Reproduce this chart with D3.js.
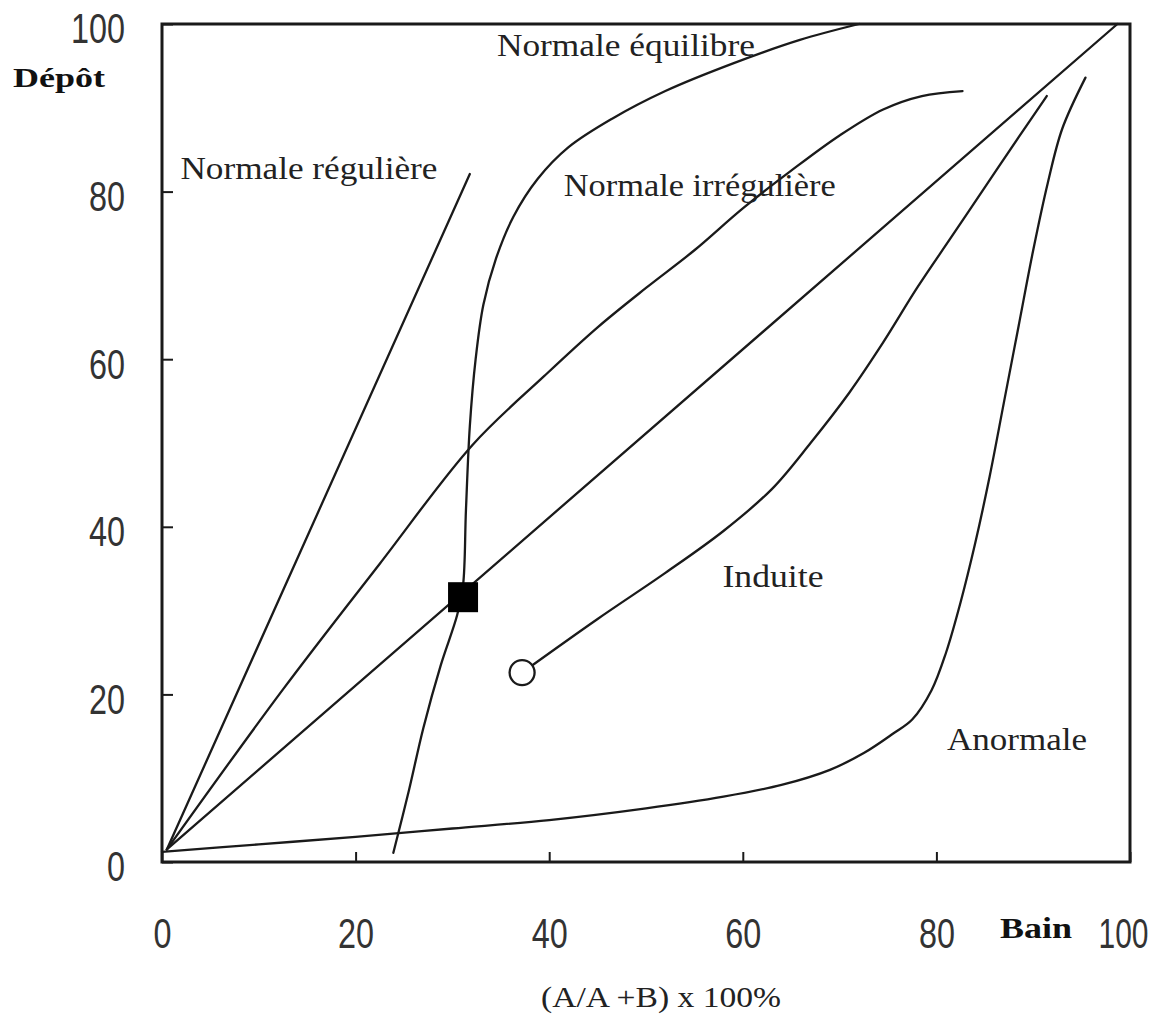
<!DOCTYPE html>
<html>
<head>
<meta charset="utf-8">
<script src="https://cdn.jsdelivr.net/npm/d3@7/dist/d3.min.js"></script>
<style>
body { margin: 0; background: #fff; }
</style>
</head>
<body>
<script>
const largeur = 1165;
const hauteur = 1016;

// courbes : [bain %, dépôt %]
const normaleReguliere = [[0.5, 1.5], [31.8, 82.1]];
const normaleIrreguliere = [[0.5, 1.5], [12.5, 20.6], [22.5, 35.6], [32.1, 49.8], [39.5, 58], [45, 63.8], [50, 68.5], [55, 73], [60, 78], [65, 82.5], [70, 86.7], [74.5, 89.8], [78.5, 91.4], [82.7, 92]];
const diagonale = [[0.5, 1.5], [98.7, 100]];
const normaleEquilibre = [[23.9, 1.1], [25.5, 8.5], [27, 16], [28.8, 23.5], [30.5, 29.5], [31.1, 33], [31.4, 42], [31.8, 52], [32.4, 60], [33.2, 66.5], [34.5, 72], [36.3, 77], [38.8, 81.5], [42, 85.3], [46.5, 88.7], [52, 92], [59, 95.3], [65.9, 98.1], [72, 100]];
const induite = [[37.2, 22.6], [45, 29], [52, 34.5], [58, 39.5], [63, 44.5], [67, 50], [71, 56], [74.5, 62], [78, 68.5], [81.5, 74.5], [85, 80.5], [88.5, 86.5], [91.4, 91.4]];
const anormale = [[0, 1.2], [10, 2.1], [20, 3], [30, 4], [40, 5], [50, 6.4], [58, 7.8], [64, 9.2], [69, 11], [72.5, 13], [75.5, 15.3], [77.5, 17], [79.5, 20.5], [81, 25], [82.5, 31], [84, 38], [85.5, 46], [87, 55], [88.5, 64], [90, 73], [91.5, 81], [93, 87.5], [95.4, 93.6]];

const pointCarre = [31.1, 31.6];
const pointRond = [37.2, 22.6];

const ticksX = [0, 20, 40, 60, 80, 100];
const ticksY = [0, 20, 40, 60, 80, 100];

const svg = d3
.select("body")
.append("svg")
.attr("width", largeur)
.attr("height", hauteur);

const x = d3.scaleLinear().domain([0, 100]).range([162, 1130]);
const y = d3.scaleLinear().domain([0, 100]).range([862, 24]);

const encre = "#1a1a1a";

// axes
const axeY = svg.append("g")
.attr("transform", "translate(" + x(0) + ",0)")
.call(d3.axisLeft(y).tickValues(ticksY).tickSize(-11).tickPadding(37));

const axeX = svg.append("g")
.attr("transform", "translate(0," + y(0) + ")")
.call(d3.axisBottom(x).tickValues(ticksX).tickSize(-10).tickPadding(56));

[axeY, axeX].forEach(function(a)
{
    a.select(".domain").remove();
    a.selectAll(".tick line").attr("stroke", encre).attr("stroke-width", 2);
    a.selectAll(".tick text")
    .attr("font-family", "'Liberation Sans Narrow', 'Liberation Sans', sans-serif")
    .attr("font-size", 42)
    .attr("fill", "#333")
    .attr("textLength", function(d) { return String(d).length * 18; })
    .attr("lengthAdjust", "spacingAndGlyphs");
});
axeY.selectAll(".tick text").attr("dy", "0.45em");
axeX.selectAll(".tick text").attr("dy", "0.71em");
axeX.selectAll(".tick text").filter(function(d) { return d == 100; })
.attr("dx", -7)
.attr("textLength", 50);

// cadre
svg.append("rect")
.attr("x", x(0))
.attr("y", y(100))
.attr("width", x(100) - x(0))
.attr("height", y(0) - y(100))
.attr("fill", "none")
.attr("stroke", encre)
.attr("stroke-width", 3);

const lisse = d3.line()
.x(function(d) { return x(d[0]); })
.y(function(d) { return y(d[1]); })
.curve(d3.curveCatmullRom.alpha(0.5));

const droite = d3.line()
.x(function(d) { return x(d[0]); })
.y(function(d) { return y(d[1]); });

const courbes = [
    { points: normaleReguliere, trace: droite },
    { points: normaleIrreguliere, trace: lisse },
    { points: diagonale, trace: droite },
    { points: normaleEquilibre, trace: lisse },
    { points: induite, trace: lisse },
    { points: anormale, trace: lisse }
];

svg.append("g")
.selectAll("path")
.data(courbes)
.enter()
.append("path")
.attr("d", function(d) { return d.trace(d.points); })
.attr("fill", "none")
.attr("stroke", encre)
.attr("stroke-width", 2.3)
.attr("stroke-linecap", "round")
.attr("stroke-linejoin", "round");

// marqueurs
svg.append("rect")
.attr("x", x(pointCarre[0]) - 15)
.attr("y", y(pointCarre[1]) - 15)
.attr("width", 30)
.attr("height", 30)
.attr("fill", "#000");

svg.append("circle")
.attr("cx", x(pointRond[0]))
.attr("cy", y(pointRond[1]))
.attr("r", 12.5)
.attr("fill", "#fff")
.attr("stroke", encre)
.attr("stroke-width", 2.3);

// étiquettes des courbes
const etiquettes = [
    { texte: "Normale équilibre", bx: 34.6, dy: 96.2, long: 258 },
    { texte: "Normale régulière", bx: 1.9, dy: 81.5, long: 257 },
    { texte: "Normale irrégulière", bx: 41.5, dy: 79.5, long: 272 },
    { texte: "Induite", bx: 57.9, dy: 32.8, long: 101 },
    { texte: "Anormale", bx: 81.1, dy: 13.4, long: 140 }
];

svg.append("g")
.selectAll("text")
.data(etiquettes)
.enter()
.append("text")
.attr("x", function(d) { return x(d.bx); })
.attr("y", function(d) { return y(d.dy); })
.attr("font-family", "'Liberation Serif', 'Times New Roman', serif")
.attr("font-size", 31)
.attr("fill", "#222")
.attr("textLength", function(d) { return d.long; })
.attr("lengthAdjust", "spacingAndGlyphs")
.text(function(d) { return d.texte; });

// titres des axes
svg.append("text")
.attr("x", 13)
.attr("y", 87)
.attr("font-family", "'Liberation Serif', serif")
.attr("font-weight", "bold")
.attr("font-size", 28)
.attr("fill", "#111")
.attr("textLength", 92)
.attr("lengthAdjust", "spacingAndGlyphs")
.text("Dépôt");

svg.append("text")
.attr("x", 1000)
.attr("y", 938)
.attr("font-family", "'Liberation Serif', serif")
.attr("font-weight", "bold")
.attr("font-size", 30)
.attr("fill", "#111")
.attr("textLength", 72)
.attr("lengthAdjust", "spacingAndGlyphs")
.text("Bain");

svg.append("text")
.attr("x", 541)
.attr("y", 1007)
.attr("font-family", "'Liberation Serif', serif")
.attr("font-size", 30)
.attr("fill", "#222")
.attr("textLength", 240)
.attr("lengthAdjust", "spacingAndGlyphs")
.text("(A/A +B) x 100%");
</script>
</body>
</html>
